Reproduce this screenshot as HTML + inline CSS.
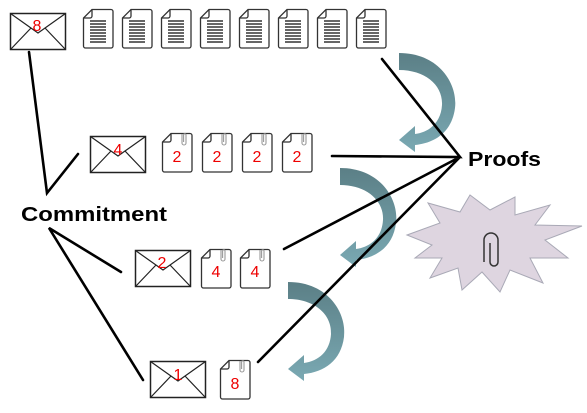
<!DOCTYPE html>
<html><head><meta charset="utf-8"><style>
html,body{margin:0;padding:0;background:#fff;}
svg{display:block}
text{font-family:"Liberation Sans",sans-serif}
</style></head><body>
<svg width="587" height="413" viewBox="0 0 587 413" xmlns="http://www.w3.org/2000/svg">
<defs>
<linearGradient id="ag" x1="0" y1="0" x2="0" y2="1">
<stop offset="0" stop-color="#5b7f86"/><stop offset="1" stop-color="#7aa9b3"/>
</linearGradient>
<g id="env">
<rect x="0.5" y="0.5" width="55" height="36" fill="#fff" stroke="#222" stroke-width="1.5"/>
<path d="M0.5,0.5 L28,20 L55.5,0.5 M0.5,36.5 L21,15 M55.5,36.5 L35,15" fill="none" stroke="#222" stroke-width="1.2"/>
</g>
<g id="doc">
<path d="M9,0.5 H28 a2,2 0 0 1 2,2 V37 a2,2 0 0 1 -2,2 H2.5 a2,2 0 0 1 -2,-2 V9 Z" fill="#fff" stroke="#333" stroke-width="1.3"/>
<path d="M0.5,9 H7 a2,2 0 0 0 2,-2 V0.5" fill="none" stroke="#333" stroke-width="1.3"/>
<path d="M7,12 H23 M7,15 H23 M7,18 H23 M7,21 H23 M7,24 H23 M7,27 H23 M7,30 H23 M7,33 H23" stroke="#333" stroke-width="1.4"/>
</g>
<g id="pdoc">
<path d="M9,0.5 H28 a2,2 0 0 1 2,2 V37 a2,2 0 0 1 -2,2 H2.5 a2,2 0 0 1 -2,-2 V9 Z" fill="#fff" stroke="#333" stroke-width="1.3"/>
<path d="M0.5,9 H7 a2,2 0 0 0 2,-2 V0.5" fill="none" stroke="#333" stroke-width="1.3"/>
<path d="M20,1 V10 a2,2 0 0 0 4,0 V2 a1.2,1.2 0 0 0 -2.4,0 V9" fill="none" stroke="#999" stroke-width="1.1"/>
</g>
<path id="arr" d="M399,53 C440,53 458,85 455,108 C452,132 435,143 415,145 L415,152 L399,140 L415,126 L415,134 C430,132 441,122 442,105 C443,85 425,70 399,70 Z" fill="url(#ag)"/>
</defs>

<use href="#arr"/>
<use href="#arr" transform="translate(-59,115)"/>
<use href="#arr" transform="translate(-111,229)"/>

<polygon points="407,235 440,223 428,203 460,212 470,195 490,210 515,197 515,215 550,205 535,225 582,226 545,240 568,258 530,258 543,283 510,270 500,292 482,272 462,290 458,268 430,278 442,258 415,258 432,245" fill="#ded5e0" stroke="#a9a9b6" stroke-width="1"/>
<path d="M484,262 V240 a7,7 0 0 1 14,0 V262 a4,4 0 0 1 -8,0 V243" fill="none" stroke="#333" stroke-width="1.5"/>

<use href="#env" x="10" y="13"/>
<text x="37" y="31" font-size="16" fill="#e00" text-anchor="middle">8</text>
<use href="#doc" x="83" y="9"/><use href="#doc" x="122" y="9"/><use href="#doc" x="161" y="9"/><use href="#doc" x="200" y="9"/>
<use href="#doc" x="239" y="9"/><use href="#doc" x="278" y="9"/><use href="#doc" x="317" y="9"/><use href="#doc" x="356" y="9"/>

<use href="#env" x="90" y="136"/>
<text x="118" y="155" font-size="16" fill="#e00" text-anchor="middle">4</text>
<use href="#pdoc" x="162" y="133"/><use href="#pdoc" x="202" y="133"/><use href="#pdoc" x="242" y="133"/><use href="#pdoc" x="282" y="133"/>
<text x="177" y="162" font-size="16" fill="#e00" text-anchor="middle">2</text>
<text x="217" y="162" font-size="16" fill="#e00" text-anchor="middle">2</text>
<text x="257" y="162" font-size="16" fill="#e00" text-anchor="middle">2</text>
<text x="297" y="162" font-size="16" fill="#e00" text-anchor="middle">2</text>

<use href="#env" x="135" y="250"/>
<text x="162" y="268" font-size="16" fill="#e00" text-anchor="middle">2</text>
<use href="#pdoc" x="201" y="249"/><use href="#pdoc" x="240" y="249"/>
<text x="216" y="277" font-size="16" fill="#e00" text-anchor="middle">4</text>
<text x="255" y="277" font-size="16" fill="#e00" text-anchor="middle">4</text>

<use href="#env" x="150" y="361"/>
<text x="178" y="380" font-size="16" fill="#e00" text-anchor="middle">1</text>
<use href="#pdoc" x="220" y="360"/>
<text x="235" y="389" font-size="16" fill="#e00" text-anchor="middle">8</text>

<g stroke="#000" stroke-width="2.6" fill="none" stroke-linecap="round">
<path d="M29,52 L47,193 L78,154"/>
<path d="M121,272 L49,228 L143,380"/>
<path d="M382,59 L460,157 L332,156 M460,157 L284,249 M460,157 L258,362"/>
</g>

<text x="21" y="221" font-size="20" font-weight="bold" fill="#000" textLength="146" lengthAdjust="spacingAndGlyphs">Commitment</text>
<text x="468" y="166" font-size="20" font-weight="bold" fill="#000" textLength="73" lengthAdjust="spacingAndGlyphs">Proofs</text>
</svg>
</body></html>
